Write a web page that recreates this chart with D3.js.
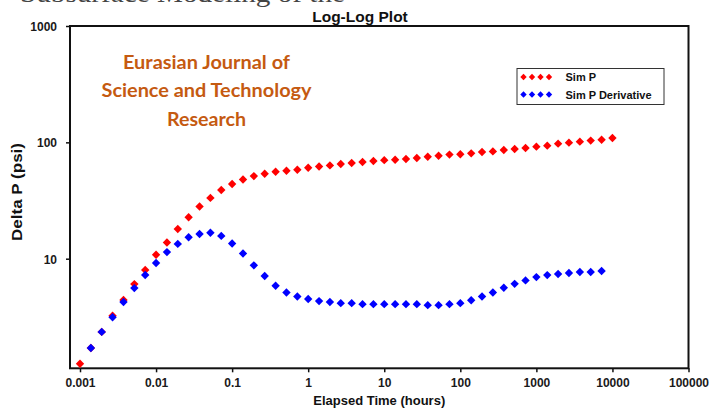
<!DOCTYPE html>
<html>
<head>
<meta charset="utf-8">
<script src="https://cdn.jsdelivr.net/npm/d3@7"></script>
<style>
  body { margin: 0; background: #fff; }
  svg { display: block; font-family: "Liberation Sans", Arial, sans-serif; }
</style>
</head>
<body>
<svg width="710" height="408"></svg>
<script>
// elapsed time (hours), 7 points per decade
var times = [0.001, 0.00139, 0.00193, 0.00268, 0.00373, 0.00518, 0.0072,
  0.01, 0.0139, 0.0193, 0.0268, 0.0373, 0.0518, 0.072,
  0.1, 0.139, 0.193, 0.268, 0.373, 0.518, 0.72,
  1, 1.39, 1.93, 2.68, 3.73, 5.18, 7.2,
  10, 13.9, 19.3, 26.8, 37.3, 51.8, 72,
  100, 139, 193, 268, 373, 518, 720,
  1000, 1390, 1930, 2680, 3730, 5180, 7200,
  10000];

var simP = [1.25, 1.71, 2.35, 3.23, 4.41, 6.05, 8.0,
  10.8, 13.8, 18.0, 22.7, 28.1, 33.3, 38.9,
  43.8, 48.0, 51.3, 53.7, 55.9, 57.0, 58.2,
  60.5, 62.1, 63.4, 65.2, 66.4, 67.8, 69.1,
  70.3, 70.8, 71.9, 73.4, 75.3, 76.8, 78.5,
  79.1, 80.4, 82.6, 83.6, 85.9, 87.7, 89.5,
  91.8, 93.7, 97.5, 99.4, 101.4, 103.5, 105.4,
  109.1];

// derivative starts at the 2nd time step and stops one before the last
var derivTimes = times.slice(1, 49);
var simPDeriv = [1.71, 2.35, 3.14, 4.24, 5.59, 7.24,
  9.19, 11.4, 13.4, 15.3, 16.3, 16.7, 15.7,
  13.5, 11.1, 8.77, 7.10, 5.85, 5.13, 4.74,
  4.50, 4.32, 4.24, 4.15, 4.15, 4.07, 4.07,
  4.07, 4.07, 4.07, 4.07, 3.99, 3.99, 4.07,
  4.15, 4.40, 4.74, 5.13, 5.62, 6.08, 6.51,
  6.95, 7.23, 7.38, 7.53, 7.68, 7.68, 7.83];

var xTicks = [0.001, 0.01, 0.1, 1, 10, 100, 1000, 10000, 100000];
var xTickLabels = ["0.001", "0.01", "0.1", "1", "10", "100", "1000", "10000", "100000"];
var yTicks = [10, 100, 1000];
var yTickLabels = ["10", "100", "1000"];

var seriesNames = ["Sim P", "Sim P Derivative"];
var seriesColors = ["#ff0000", "#0000ff"];
var journalLines = ["Eurasian Journal of", "Science and Technology", "Research"];

var svg = d3.select("svg");
var plotLeft = 70, plotRight = 688.5, plotTop = 26, plotBottom = 368.3;

var xScale = d3.scaleLog().domain([Math.pow(10, -3.1315), 100000]).range([plotLeft, plotRight]);
var yScale = d3.scaleLog().domain([1.143, 1000]).range([plotBottom, plotTop]);

// cut-off line of the page text above the figure
svg.append("text")
  .attr("x", 20).attr("y", 1.5)
  .attr("textLength", 325).attr("lengthAdjust", "spacingAndGlyphs")
  .style("font-family", "'Liberation Serif', serif")
  .style("font-size", "26px").style("fill", "#444")
  .text("Subsurface Modeling of the");

svg.append("text")
  .attr("x", 360).attr("y", 22)
  .attr("text-anchor", "middle")
  .style("font-size", "15.5px").style("font-weight", "bold").style("fill", "#111")
  .text("Log-Log Plot");

var xAxis = svg.append("g")
  .attr("transform", "translate(0," + plotBottom + ")")
  .call(d3.axisBottom(xScale).tickValues(xTicks).tickSize(4).tickPadding(6)
    .tickFormat(function (d, i) { return xTickLabels[i]; }));

var yAxis = svg.append("g")
  .attr("transform", "translate(" + plotLeft + ",0)")
  .call(d3.axisLeft(yScale).tickValues(yTicks).tickSize(4).tickPadding(9)
    .tickFormat(function (d, i) { return yTickLabels[i]; }));

[xAxis, yAxis].forEach(function (a) {
  a.select(".domain").remove();
  a.selectAll("line").attr("stroke", "#111").attr("stroke-width", 1.5);
  a.selectAll("text")
    .style("font-size", "12px").style("font-weight", "bold")
    .style("font-family", "'Liberation Sans', Arial, sans-serif")
    .attr("fill", "#1a1a1a");
});
yAxis.selectAll("text").attr("dy", "0.36em");

svg.append("rect")
  .attr("x", plotLeft).attr("y", plotTop)
  .attr("width", plotRight - plotLeft).attr("height", plotBottom - plotTop)
  .attr("fill", "none").attr("stroke", "#111").attr("stroke-width", 2);

svg.append("text")
  .attr("x", (plotLeft + plotRight) / 2).attr("y", 405)
  .attr("text-anchor", "middle")
  .style("font-size", "13px").style("font-weight", "bold").style("fill", "#111")
  .text("Elapsed Time (hours)");

svg.append("text")
  .attr("transform", "translate(22,192) rotate(-90)")
  .attr("text-anchor", "middle")
  .attr("textLength", 98).attr("lengthAdjust", "spacingAndGlyphs")
  .style("font-size", "14px").style("font-weight", "bold").style("fill", "#111")
  .text("Delta P (psi)");

// journal watermark
svg.selectAll(".journal")
  .data(journalLines)
  .enter()
  .append("text")
  .attr("class", "journal")
  .attr("x", 206.5)
  .attr("y", function (d, i) { return 69 + i * 28.3; })
  .attr("text-anchor", "middle")
  .attr("textLength", function (d, i) { return [167, 210, 79][i]; })
  .attr("lengthAdjust", "spacingAndGlyphs")
  .style("font-family", "Lato, 'Open Sans', sans-serif")
  .style("font-size", "19px").style("font-weight", "bold")
  .style("fill", "#c55a11")
  .text(function (d) { return d; });

function diamond(r) {
  return "M0," + (-r) + "L" + r + ",0L0," + r + "L" + (-r) + ",0Z";
}

var plot = svg.append("g");

plot.selectAll(".simp")
  .data(simP)
  .enter()
  .append("path")
  .attr("class", "simp")
  .attr("d", diamond(4.2))
  .attr("fill", seriesColors[0])
  .attr("transform", function (d, i) { return "translate(" + xScale(times[i]) + "," + yScale(d) + ")"; });

plot.selectAll(".deriv")
  .data(simPDeriv)
  .enter()
  .append("path")
  .attr("class", "deriv")
  .attr("d", diamond(4.2))
  .attr("fill", seriesColors[1])
  .attr("transform", function (d, i) { return "translate(" + xScale(derivTimes[i]) + "," + yScale(d) + ")"; });

// legend
var legend = svg.append("g");
legend.append("rect")
  .attr("x", 517).attr("y", 68.5).attr("width", 147).attr("height", 36)
  .attr("fill", "#fff").attr("stroke", "#333").attr("stroke-width", 1);

seriesNames.forEach(function (name, s) {
  var cy = 77 + s * 17.5;
  [523.5, 532, 540.5, 549].forEach(function (cx) {
    legend.append("path")
      .attr("d", diamond(3.2))
      .attr("fill", seriesColors[s])
      .attr("transform", "translate(" + cx + "," + cy + ")");
  });
  legend.append("text")
    .attr("x", 565.5).attr("y", cy + 4)
    .style("font-size", "11px").style("font-weight", "bold").style("fill", "#111")
    .text(name);
});
</script>
</body>
</html>
